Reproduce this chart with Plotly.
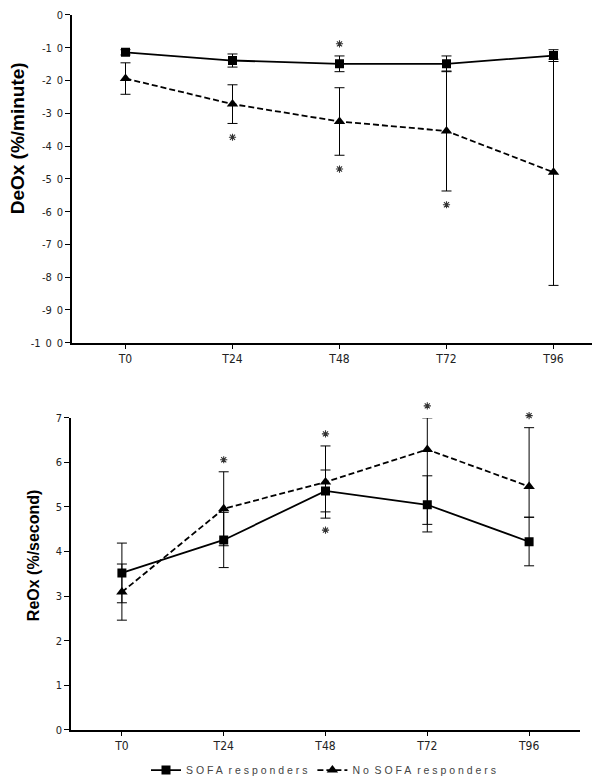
import plotly.graph_objects as go

# ---------------- data ----------------
categories = ["T0", "T24", "T48", "T72", "T96"]

deox_sofa = [-11.4, -13.9, -14.9, -14.9, -12.4]
deox_sofa_err = [0.8, 2.0, 2.4, 2.4, 1.8]
deox_nosofa = [-19.4, -27.2, -32.5, -35.4, -48.0]
deox_nosofa_err = [4.8, 5.9, 10.3, 18.3, 34.5]
deox_sofa_sig = [False, False, True, False, False]      # asterisk above
deox_nosofa_sig = [False, True, True, True, False]      # asterisk below

reox_sofa = [3.52, 4.26, 5.36, 5.05, 4.22]
reox_sofa_err_plus = [0.67, 0.62, 0.47, 0.65, 0.55]
reox_sofa_err_minus = [0.67, 0.62, 0.47, 0.61, 0.54]
reox_nosofa = [3.09, 4.96, 5.56, 6.29, 5.46]
reox_nosofa_err_plus = [0.63, 0.83, 0.81, 0.71, 1.32]
reox_nosofa_err_minus = [0.63, 0.83, 0.81, 1.68, 0.69]
reox_sofa_sig = [False, False, True, False, False]      # asterisk below
reox_nosofa_sig = [False, True, True, True, True]       # asterisk above

deox_tickvals = [0, -10, -20, -30, -40, -50, -60, -70, -80, -90, -100]
deox_ticktext = ["0", "-1\u20020", "-2\u20020", "-3\u20020", "-4\u20020", "-5\u20020",
                 "-6\u20020", "-7\u20020", "-8\u20020", "-9\u20020", "-1\u20020\u20020"]
reox_tickvals = [0, 1, 2, 3, 4, 5, 6, 7]
reox_ticktext = ["0", "1", "2", "3", "4", "5", "6", "7"]

name_sofa = "S O F A\u00a0 r e s p o n d e r s"
name_nosofa = "N o\u00a0 S O F A\u00a0 r e s p o n d e r s"

# ---------------- style ----------------
NARROW = "Liberation Sans Narrow, Arial Narrow, DejaVu Sans Condensed, sans-serif"
W, H = 600, 777
Y2_BOT, Y2_TOP, Y2_EXT = 725.5, 412.0, 390.0   # pixel rows of bottom panel
Y2_MAX = 7.0
Y3_MAX = Y2_MAX * (Y2_BOT - Y2_EXT) / (Y2_BOT - Y2_TOP)  # same scale, taller area

fig = go.Figure()

def err(plus, minus=None):
    d = dict(type="data", array=plus, symmetric=minus is None, thickness=1,
             width=5, color="black")
    if minus is not None:
        d["arrayminus"] = minus
    return d

# top panel
fig.add_trace(go.Scatter(x=categories, y=deox_sofa, error_y=err(deox_sofa_err),
                         mode="lines+markers", name=name_sofa, legendgroup="a",
                         line=dict(color="black", width=1.8),
                         marker=dict(symbol="square", size=9, color="black"),
                         xaxis="x", yaxis="y"))
fig.add_trace(go.Scatter(x=categories, y=deox_nosofa, error_y=err(deox_nosofa_err),
                         mode="lines+markers", name=name_nosofa, legendgroup="b",
                         line=dict(color="black", width=1.8, dash="6px,3px"),
                         marker=dict(symbol="triangle-up", size=10, color="black"),
                         xaxis="x", yaxis="y"))

# bottom panel
fig.add_trace(go.Scatter(x=categories, y=reox_sofa,
                         error_y=err(reox_sofa_err_plus, reox_sofa_err_minus),
                         mode="lines+markers", name=name_sofa, showlegend=False,
                         line=dict(color="black", width=1.8),
                         marker=dict(symbol="square", size=9, color="black"),
                         xaxis="x2", yaxis="y2"))
fig.add_trace(go.Scatter(x=categories, y=reox_nosofa,
                         error_y=err(reox_nosofa_err_plus, reox_nosofa_err_minus),
                         mode="lines+markers", name=name_nosofa, showlegend=False,
                         line=dict(color="black", width=1.8, dash="6px,3px"),
                         marker=dict(symbol="triangle-up", size=10, color="black"),
                         xaxis="x2", yaxis="y2"))

# significance asterisks
star = dict(symbol="asterisk-open", size=6, color="#333",
            line=dict(width=1.1, color="#333"))
sx, sy = [], []
for i, c in enumerate(categories):
    if deox_sofa_sig[i]:
        sx.append(c); sy.append(deox_sofa[i] + deox_sofa_err[i] + 3.7)
    if deox_nosofa_sig[i]:
        sx.append(c); sy.append(deox_nosofa[i] - deox_nosofa_err[i] - 4.2)
fig.add_trace(go.Scatter(x=sx, y=sy, mode="markers", marker=star, showlegend=False,
                         hoverinfo="skip", xaxis="x", yaxis="y"))
sx, sy = [], []
for i, c in enumerate(categories):
    if reox_nosofa_sig[i]:
        sx.append(c); sy.append(reox_nosofa[i] + reox_nosofa_err_plus[i] + 0.27)
    if reox_sofa_sig[i]:
        low = min(reox_sofa[i] - reox_sofa_err_minus[i],
                  reox_nosofa[i] - reox_nosofa_err_minus[i])
        sx.append(c); sy.append(low - 0.27)
# drawn on an invisible twin of the bottom axes that reaches a bit higher
fig.add_trace(go.Scatter(x=sx, y=sy, mode="markers", marker=star, showlegend=False,
                         hoverinfo="skip", xaxis="x3", yaxis="y3"))

axis_common = dict(showgrid=False, zeroline=False, showline=True, linecolor="black",
                   linewidth=1.6, ticks="outside", tickcolor="black", tickwidth=1.4,
                   automargin=False, fixedrange=True)
cat = dict(type="category", categoryorder="array", categoryarray=categories,
           range=[-0.5, 4.5])
hidden = dict(visible=False, showgrid=False, zeroline=False, automargin=False,
              fixedrange=True)
xfont = dict(family=NARROW, size=12, color="#222")
yfont = dict(family=NARROW, size=11, color="#222")

fig.update_layout(
    width=W, height=H, template="none",
    margin=dict(l=0, r=0, t=0, b=0),
    paper_bgcolor="white", plot_bgcolor="rgba(0,0,0,0)",
    xaxis=dict(domain=[64 / W, 599 / W], anchor="y", ticklen=4, tickfont=xfont,
               **cat, **axis_common),
    yaxis=dict(domain=[1 - 336.5 / H, 1 - 7 / H], anchor="x", range=[-100, 0],
               tickvals=deox_tickvals, ticktext=deox_ticktext, ticklen=5,
               tickfont=yfont, **axis_common),
    xaxis2=dict(domain=[63 / W, 572 / W], anchor="y2", ticklen=4, tickfont=xfont,
                **cat, **axis_common),
    yaxis2=dict(domain=[1 - Y2_BOT / H, 1 - Y2_TOP / H], anchor="x2",
                range=[0, Y2_MAX], tickvals=reox_tickvals, ticktext=reox_ticktext,
                ticklen=5, tickfont=yfont, **axis_common),
    xaxis3=dict(domain=[63 / W, 572 / W], anchor="y3", **cat, **hidden),
    yaxis3=dict(domain=[1 - Y2_BOT / H, 1 - Y2_EXT / H], anchor="x3",
                range=[0, Y3_MAX], **hidden),
    legend=dict(orientation="h", x=138 / W, xanchor="left", y=1 - 766 / H,
                yanchor="middle", itemwidth=30, bgcolor="rgba(0,0,0,0)",
                font=dict(family="Liberation Sans, Arial, sans-serif", size=10.5,
                          color="#444"), tracegroupgap=0),
    showlegend=True,
    annotations=[
        dict(text="<b>DeOx (%/minute)</b>", xref="paper", yref="paper",
             x=9 / W, y=1 - 131 / H, textangle=-90, showarrow=False,
             xanchor="center", yanchor="middle",
             font=dict(family="Liberation Sans, Arial, sans-serif", size=19,
                       color="black")),
        dict(text="<b>ReOx (%/second)</b>", xref="paper", yref="paper",
             x=25 / W, y=1 - 550 / H, textangle=-90, showarrow=False,
             xanchor="center", yanchor="middle",
             font=dict(family="Liberation Sans, Arial, sans-serif", size=16,
                       color="black")),
    ],
)

fig.write_html("out.html")
